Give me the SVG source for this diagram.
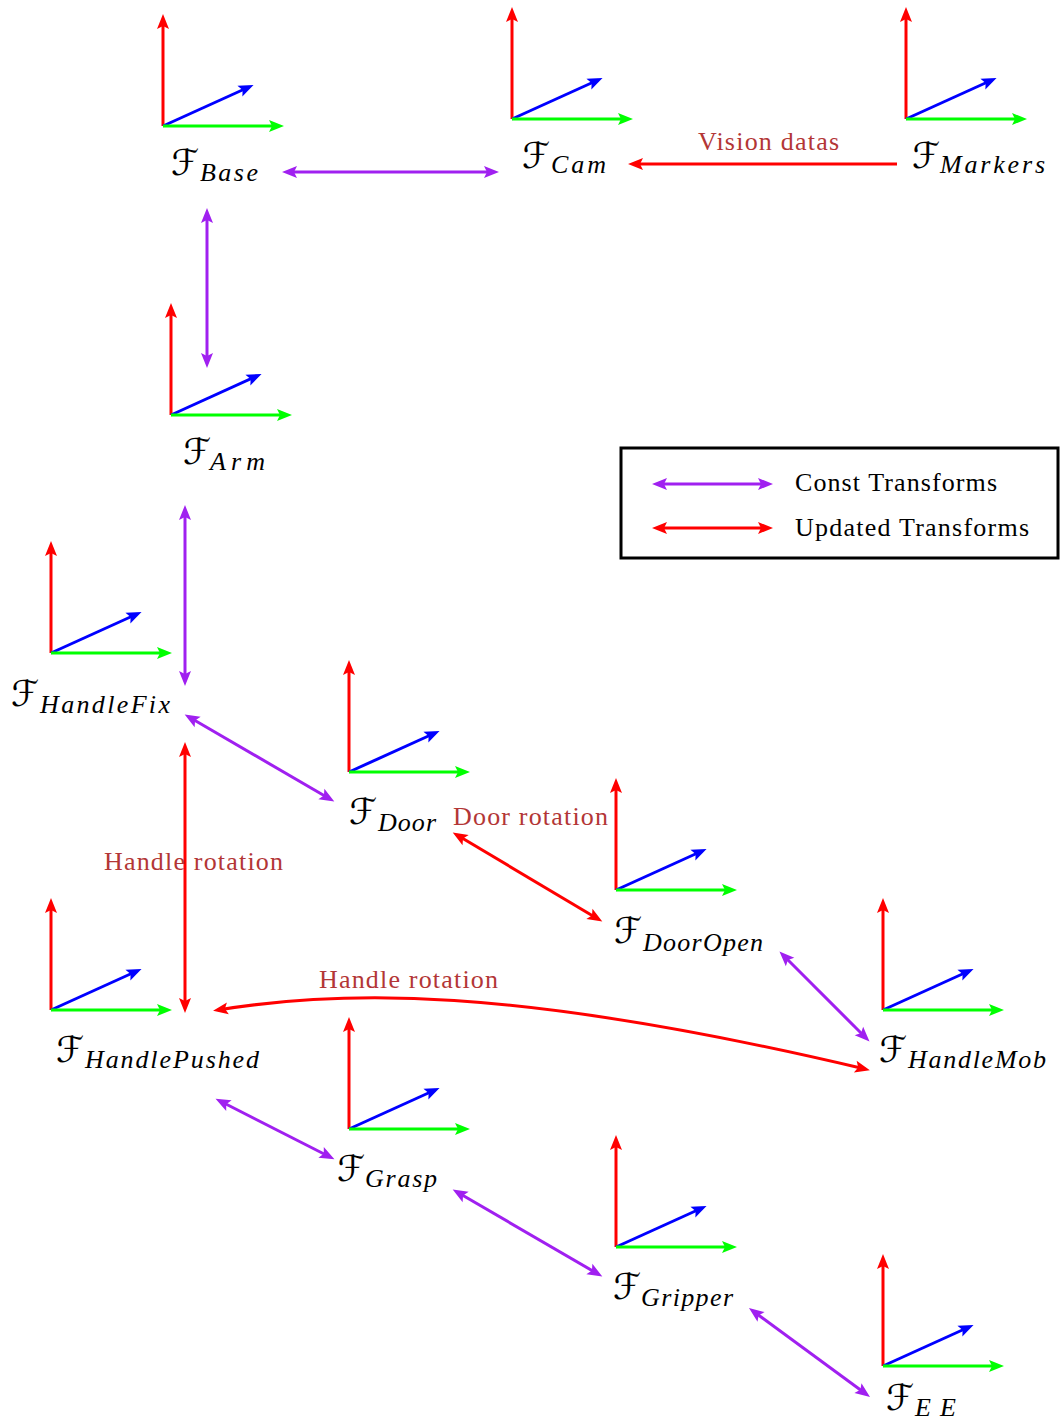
<svg xmlns="http://www.w3.org/2000/svg" width="1060" height="1425" viewBox="0 0 1060 1425">
<style>
.ax{stroke-width:3;fill:none}
.F{font-family:"DejaVu Serif","DejaVu Sans",serif;font-size:36px;fill:#000}
.sub{font-family:"Liberation Serif","Times New Roman","DejaVu Serif",serif;font-style:italic;font-size:26px;fill:#000}
.lbl{font-family:"Liberation Serif","Times New Roman","DejaVu Serif",serif;font-size:26px;fill:#b33636}
.leg{font-family:"Liberation Serif","Times New Roman","DejaVu Serif",serif;font-size:26px;fill:#000}
.c{stroke:#a020f0;stroke-width:3;fill:none;marker-start:url(#hp);marker-end:url(#hp)}
.u{stroke:#ff0000;stroke-width:3;fill:none;marker-start:url(#hr);marker-end:url(#hr)}
</style>
<defs>
<marker id="hr" markerUnits="userSpaceOnUse" markerWidth="18" markerHeight="14" refX="10" refY="6" orient="auto-start-reverse" overflow="visible"><path d="M0,0 L15,6 L0,12 L3,6 z" fill="#ff0000"/></marker>
<marker id="hp" markerUnits="userSpaceOnUse" markerWidth="18" markerHeight="14" refX="10" refY="6" orient="auto-start-reverse" overflow="visible"><path d="M0,0 L15,6 L0,12 L3,6 z" fill="#a020f0"/></marker>
<marker id="hg" markerUnits="userSpaceOnUse" markerWidth="18" markerHeight="14" refX="10" refY="6" orient="auto" overflow="visible"><path d="M0,0 L15,6 L0,12 L3,6 z" fill="#00ff00"/></marker>
<marker id="hb" markerUnits="userSpaceOnUse" markerWidth="18" markerHeight="14" refX="10" refY="6" orient="auto" overflow="visible"><path d="M0,0 L15,6 L0,12 L3,6 z" fill="#0000ff"/></marker>
<marker id="hr1" markerUnits="userSpaceOnUse" markerWidth="18" markerHeight="14" refX="10" refY="6" orient="auto" overflow="visible"><path d="M0,0 L15,6 L0,12 L3,6 z" fill="#ff0000"/></marker>
<g id="axes">
<line class="ax" x1="0" y1="0" x2="0" y2="-107" stroke="#ff0000" marker-end="url(#hr1)"/>
<line class="ax" x1="0" y1="0" x2="86" y2="-39" stroke="#0000ff" marker-end="url(#hb)"/>
<line class="ax" x1="0" y1="0" x2="116" y2="0" stroke="#00ff00" marker-end="url(#hg)"/>
</g>
</defs>
<rect width="1060" height="1425" fill="#fff"/>

<g id="connectors">
<line class="c" x1="287" y1="172" x2="494" y2="172"/>
<line class="c" x1="207" y1="213" x2="207" y2="363"/>
<line class="c" x1="185" y1="510" x2="185" y2="681"/>
<line class="c" x1="189" y1="717" x2="330" y2="799"/>
<line class="c" x1="783" y1="955" x2="866" y2="1038"/>
<line class="c" x1="220" y1="1101" x2="330" y2="1157"/>
<line class="c" x1="457" y1="1192" x2="598" y2="1274"/>
<line class="c" x1="753" y1="1311" x2="866" y2="1394"/>
<line x1="897" y1="164" x2="633" y2="164" stroke="#ff0000" stroke-width="3" marker-end="url(#hr1)"/>
<text class="lbl" x="698" y="150" textLength="141">Vision datas</text>
<line class="u" x1="185" y1="747" x2="185" y2="1008"/>
<text class="lbl" x="104" y="870" textLength="179">Handle rotation</text>
<line class="u" x1="457" y1="835" x2="598" y2="919"/>
<text class="lbl" x="453" y="825" textLength="155">Door rotation</text>
<path class="u" d="M218,1010 C340,990 510,985 865,1069"/>
<text class="lbl" x="319" y="988" textLength="179">Handle rotation</text>
</g>

<g id="legend">
<rect x="621" y="448" width="437" height="110" fill="none" stroke="#000" stroke-width="3"/>
<line class="c" x1="657" y1="484" x2="768" y2="484"/>
<line class="u" x1="657" y1="528" x2="768" y2="528"/>
<text class="leg" x="795" y="491" textLength="202">Const Transforms</text>
<text class="leg" x="795" y="536" textLength="234">Updated Transforms</text>
</g>

<g id="base"><use href="#axes" x="163" y="126"/><text class="F" x="171" y="175">ℱ</text><text class="sub" x="200" y="181" textLength="58">Base</text></g>
<g id="cam"><use href="#axes" x="512" y="119"/><text class="F" x="522" y="168">ℱ</text><text class="sub" x="551" y="173" textLength="55">Cam</text></g>
<g id="markers"><use href="#axes" x="906" y="119"/><text class="F" x="912" y="168">ℱ</text><text class="sub" x="940" y="173" textLength="105">Markers</text></g>
<g id="arm"><use href="#axes" x="171" y="415"/><text class="F" x="183" y="464">ℱ</text><text class="sub" x="210" y="470" textLength="55">Arm</text></g>
<g id="handlefix"><use href="#axes" x="51" y="653"/><text class="F" x="11" y="706">ℱ</text><text class="sub" x="40" y="713" textLength="130">HandleFix</text></g>
<g id="door"><use href="#axes" x="349" y="772"/><text class="F" x="349" y="824">ℱ</text><text class="sub" x="378" y="831" textLength="58">Door</text></g>
<g id="dooropen"><use href="#axes" x="616" y="890"/><text class="F" x="614" y="943">ℱ</text><text class="sub" x="643" y="951" textLength="120">DoorOpen</text></g>
<g id="handlepushed"><use href="#axes" x="51" y="1010"/><text class="F" x="56" y="1062">ℱ</text><text class="sub" x="85" y="1068" textLength="174">HandlePushed</text></g>
<g id="handlemob"><use href="#axes" x="883" y="1010"/><text class="F" x="879" y="1062">ℱ</text><text class="sub" x="908" y="1068" textLength="138">HandleMob</text></g>
<g id="grasp"><use href="#axes" x="349" y="1129"/><text class="F" x="337" y="1181">ℱ</text><text class="sub" x="365" y="1187" textLength="72">Grasp</text></g>
<g id="gripper"><use href="#axes" x="616" y="1247"/><text class="F" x="613" y="1299">ℱ</text><text class="sub" x="641" y="1306" textLength="92">Gripper</text></g>
<g id="ee"><use href="#axes" x="883" y="1366"/><text class="F" x="886" y="1410">ℱ</text><text class="sub" x="915" y="1416" textLength="41">EE</text></g>
</svg>
